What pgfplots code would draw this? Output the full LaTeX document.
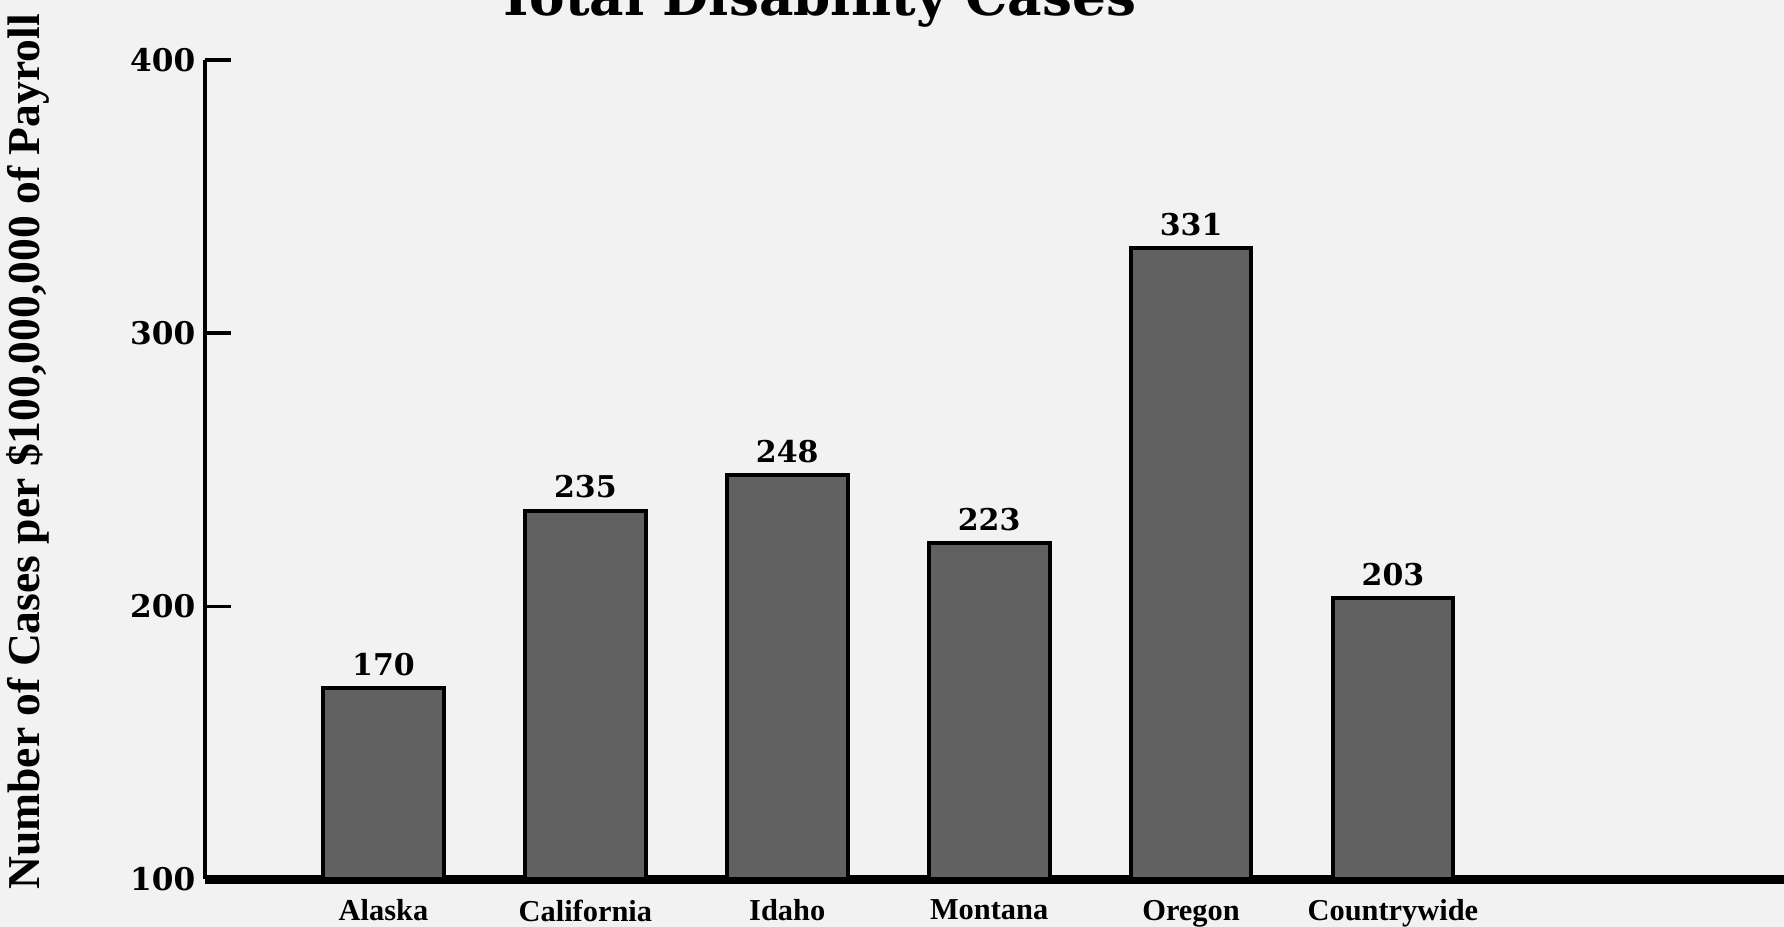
\documentclass[border=0pt]{standalone}
\usepackage{fontspec}
\setmainfont{Liberation Serif}
\newfontfamily\dvs{DejaVu Serif}
\usepackage{pgfplots}
\pgfplotsset{compat=1.18}

\begin{document}
\begin{tikzpicture}
% paper tone behind the whole chart
\fill[black!5] (-51.25pt,-11.875pt) rectangle (394.75pt,219.875pt);
\begin{axis}[
  name=ax, at={(0pt,0pt)}, anchor=south west,
  scale only axis, width=394.75pt, height=204.875pt,
  xmin=-0.884, xmax=6.937, ymin=100, ymax=400,
  axis x line=bottom, axis y line=left,
  axis line style={-},
  x axis line style={line width=2.3pt},
  y axis line style={line width=1pt},
  xtick={0,1,2,3,4,5},
  xticklabels={Alaska,California,Idaho,Montana,Oregon,Countrywide},
  xtick style={draw=none},
  ytick={100,200,300,400},
  ytick style={line width=0.9pt, black},
  tick align=inside, major tick length=6.5pt,
  /pgf/number format/assume math mode=true,
  yticklabel style={font=\dvs\bfseries\fontsize{7.8}{8}\selectfont, anchor=east, inner sep=0pt, xshift=-2.25pt},
  xticklabel style={font=\bfseries\fontsize{7.6}{8}\selectfont, anchor=north, inner sep=0pt, yshift=1.6pt},
  ylabel={Number of Cases per \$100,000,000 of Payroll},
  ylabel style={at={(axis description cs:-0.112,0.5216)}, anchor=center, font=\bfseries\fontsize{11.4}{12}\selectfont},
  title={Total Disability Cases},
  title style={at={(axis description cs:0.387,1.025)}, anchor=base, font=\dvs\bfseries\fontsize{13.3}{14}\selectfont},
  ybar, bar width=30.2pt,
  nodes near coords,
  every node near coord/.append style={font=\dvs\bfseries\fontsize{7.5}{8}\selectfont, anchor=south, inner sep=0pt, yshift=2.6pt, black},
]
\addplot[draw=black, line width=1pt, fill=black!62] coordinates {
  (0,170) (1,235) (2,248) (3,223) (4,331) (5,203)
};
\end{axis}
\pgfresetboundingbox
\useasboundingbox (-51.25pt,-11.875pt) rectangle (394.75pt,219.875pt);
\end{tikzpicture}
\end{document}
